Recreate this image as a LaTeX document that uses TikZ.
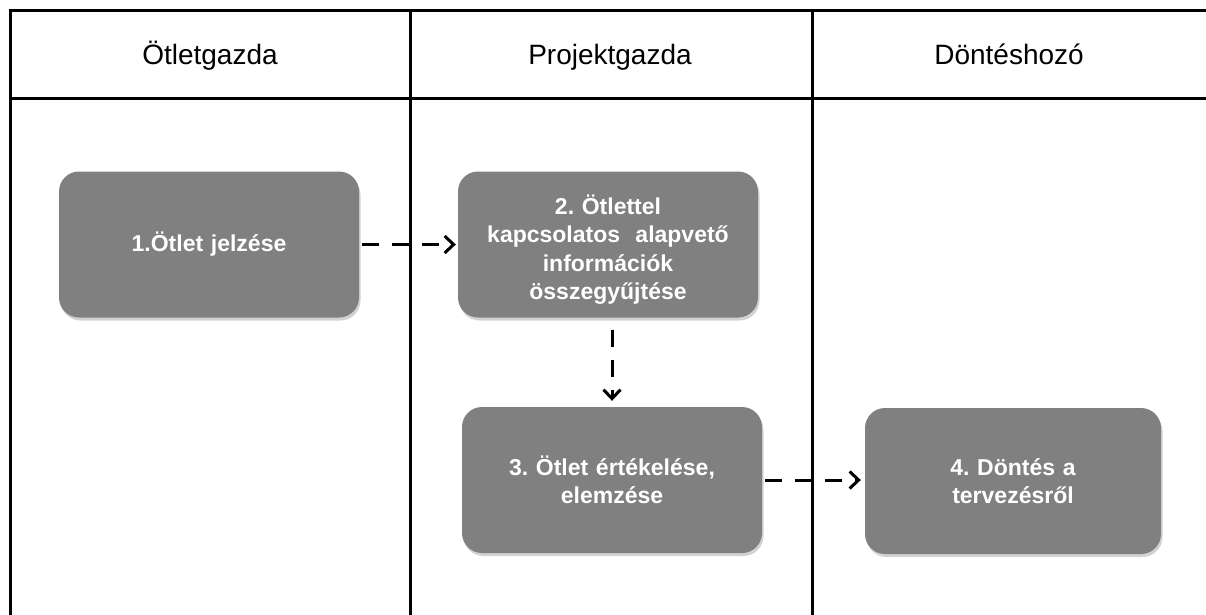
\documentclass[tikz,border=0pt]{standalone}
\usepackage{fontspec}
\setmainfont{Liberation Sans}
\usetikzlibrary{arrows.meta,shadows,calc}
\frenchspacing
\begin{document}
\begin{tikzpicture}[x=1pt,y=-1pt,
  lane/.style={line width=3pt,line cap=rect},
  head/.style={font=\fontsize{28}{32}\selectfont,anchor=base},
  stepbox/.style={rounded corners=20pt,fill=black!50,draw=none,
    minimum width=300pt,minimum height=146pt,text width=285pt,align=center,
    text=white,font=\bfseries\fontsize{23}{28.5}\selectfont,
    drop shadow={opacity=0.35,shadow xshift=1.5pt,shadow yshift=-3pt}},
  flow/.style={line width=3pt,dash pattern=on 17pt off 13pt,
    -{Straight Barb[length=9pt,width=17pt,line width=3pt]}}]
\useasboundingbox (0,0) rectangle (1206,614);
\fill[white] (0,0) rectangle (1206,614);

% swimlane frames
\draw[lane] (10,614) -- (10,10) -- (410,10) -- (410,614);
\draw[lane] (411,10) -- (812,10);
\draw[lane] (812,614) -- (812,10) -- (1206,10);
\draw[lane] (10,98) -- (1206,98);

% lane headers
\node[head] (h1) at (210,64) {Ötletgazda};
\node[head] (h2) at (610,64) {Projektgazda};
\node[head] (h3) at (1009,64) {Döntéshozó};

% process steps
\node[stepbox] (b1) at (209,244.5) {1.Ötlet jelzése};
\node[stepbox] (b2) at (608,244.5) {\rule{0pt}{30pt}2. Ötlettel\\kapcsolatos\ \ alapvető\\információk\\összegyűjtése};
\node[stepbox] (b3) at (612,480) {3. Ötlet értékelése,\\elemzése};
\node[stepbox,minimum width=296pt] (b4) at (1013,481) {4. Döntés a\\tervezésről};

% connectors
\draw[flow,shorten <=3pt,shorten >=2pt] (b1.east) -- (b2.west);
\draw[flow,shorten <=12pt,shorten >=6pt] (b3.north |- b2.south) -- (b3.north);
\draw[flow,shorten <=3pt,shorten >=4pt] (b3.east) -- (b4.west |- b3.east);
\end{tikzpicture}
\end{document}
